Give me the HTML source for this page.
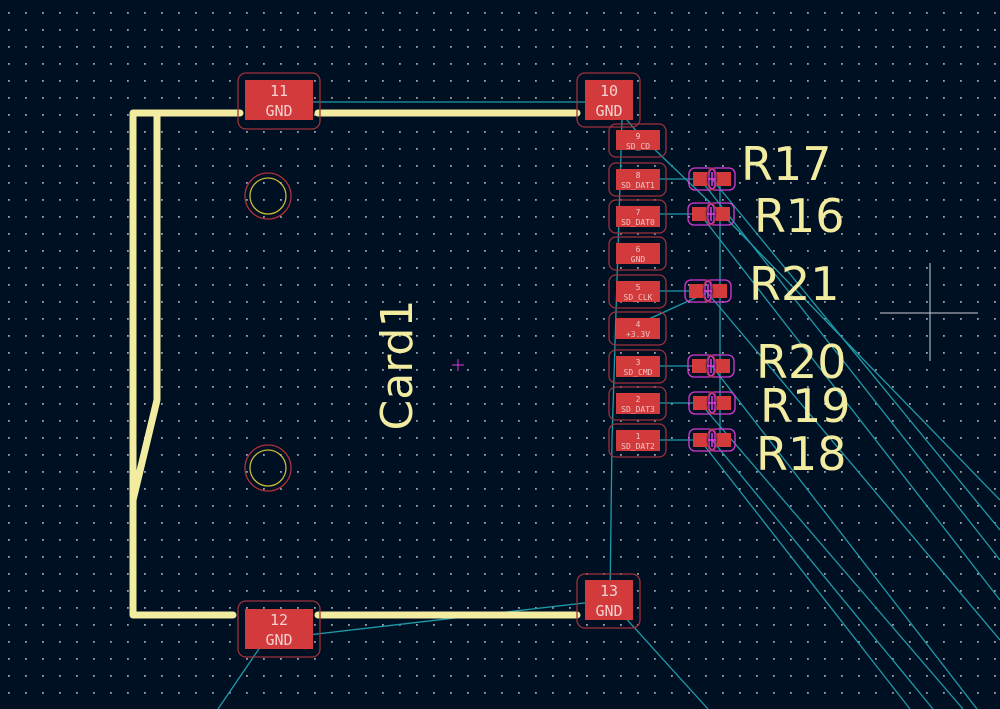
<!DOCTYPE html>
<html><head><meta charset="utf-8"><style>
html,body{margin:0;padding:0;background:#001023;}
svg{display:block}
text{font-family:"DejaVu Sans Mono","Liberation Mono",monospace;}
text.big{font-family:"DejaVu Sans","Liberation Sans",sans-serif;}
</style></head><body>
<svg width="1000" height="709" viewBox="0 0 1000 709" xmlns="http://www.w3.org/2000/svg">
<defs>
<pattern id="g" x="8" y="12" width="17" height="17" patternUnits="userSpaceOnUse">
<rect x="0" y="0" width="1.8" height="1.8" fill="#9aa0ac"/>
</pattern>
</defs>
<rect width="1000" height="709" fill="#001023"/>
<rect width="1000" height="709" fill="url(#g)"/>

<g stroke="#1f9aa8" stroke-width="1.3" fill="none">
<line x1="280" y1="102" x2="610" y2="102"/>
<line x1="612" y1="102" x2="652" y2="150"/>
<line x1="650" y1="145" x2="722" y2="214"/>
<line x1="622" y1="120" x2="612" y2="440"/>
<line x1="612" y1="440" x2="610" y2="600"/>
<line x1="640" y1="323" x2="706" y2="293"/>
<line x1="265" y1="640" x2="610" y2="600"/>
<line x1="265" y1="640" x2="218" y2="709"/>
<line x1="612" y1="603" x2="708" y2="709"/>
<line x1="720" y1="180" x2="720" y2="440"/>
<line x1="640" y1="179" x2="700" y2="179"/>
<line x1="640" y1="214" x2="700" y2="214"/>
<line x1="640" y1="291" x2="696" y2="291"/>
<line x1="640" y1="366" x2="700" y2="366"/>
<line x1="640" y1="403" x2="700" y2="403"/>
<line x1="640" y1="440" x2="700" y2="440"/>
<line x1="700" y1="440" x2="910" y2="709"/>
<line x1="712" y1="440" x2="933" y2="709"/>
<line x1="700" y1="403" x2="963" y2="709"/>
<line x1="712" y1="366" x2="977" y2="709"/>
<line x1="706" y1="291" x2="1000" y2="640"/>
<line x1="700" y1="214" x2="1000" y2="600"/>
<line x1="700" y1="179" x2="1000" y2="560"/>
<line x1="722" y1="214" x2="1000" y2="500"/>
<line x1="712" y1="179" x2="1000" y2="530"/>
</g>

<g stroke="#f2eca0" stroke-width="7" fill="none" stroke-linecap="round" stroke-linejoin="round">
<polyline points="240,113 133,113 133,615 233,615"/>
<polyline points="157,113 157,400 133,500"/>
<line x1="318" y1="113" x2="577" y2="113"/>
<line x1="318" y1="615" x2="577" y2="615"/>
</g>

<g fill="none">
<circle cx="268" cy="196" r="23" stroke="#b0303a" stroke-width="1.3"/>
<circle cx="268" cy="196" r="18" stroke="#c9b840" stroke-width="1.3"/>
<circle cx="268" cy="468" r="23" stroke="#b0303a" stroke-width="1.3"/>
<circle cx="268" cy="468" r="18" stroke="#c9b840" stroke-width="1.3"/>
</g>

<g fill="none" stroke="#a0303a" stroke-width="1.3">
<rect x="238" y="73" width="82" height="56" rx="8"/>
<rect x="577" y="73" width="63" height="54" rx="8"/>
<rect x="238" y="601" width="82" height="56" rx="8"/>
<rect x="577" y="574" width="63" height="54" rx="8"/>
</g>
<g fill="#d33a3c">
<rect x="245" y="80" width="68" height="40"/>
<rect x="585" y="80" width="48" height="40"/>
<rect x="245" y="609" width="68" height="40"/>
<rect x="585" y="580" width="48" height="40"/>
</g>
<g fill="#f4d0d0" font-size="15" text-anchor="middle">
<text x="279" y="96">11</text><text x="279" y="116">GND</text>
<text x="609" y="96">10</text><text x="609" y="116">GND</text>
<text x="279" y="625">12</text><text x="279" y="645">GND</text>
<text x="609" y="596">13</text><text x="609" y="616">GND</text>
</g>

<g>
<g fill="none" stroke="#a0303a" stroke-width="1.3">
<rect x="609" y="124" width="57" height="33" rx="7"/>
<rect x="609" y="163" width="57" height="33" rx="7"/>
<rect x="609" y="200" width="57" height="33" rx="7"/>
<rect x="609" y="237" width="57" height="33" rx="7"/>
<rect x="609" y="275" width="57" height="33" rx="7"/>
<rect x="609" y="312" width="57" height="33" rx="7"/>
<rect x="609" y="350" width="57" height="33" rx="7"/>
<rect x="609" y="387" width="57" height="33" rx="7"/>
<rect x="609" y="424" width="57" height="33" rx="7"/>
</g>
<g fill="#d33a3c">
<rect x="616" y="130" width="44" height="20"/>
<rect x="616" y="169" width="44" height="21"/>
<rect x="616" y="206" width="44" height="21"/>
<rect x="616" y="243" width="44" height="21"/>
<rect x="616" y="281" width="44" height="21"/>
<rect x="616" y="318" width="44" height="21"/>
<rect x="616" y="356" width="44" height="21"/>
<rect x="616" y="393" width="44" height="21"/>
<rect x="616" y="430" width="44" height="21"/>
</g>
<g fill="#f0c4c4" font-size="8" text-anchor="middle">
<text x="638" y="139">9</text><text x="638" y="149">SD_CD</text>
<text x="638" y="178">8</text><text x="638" y="188">SD_DAT1</text>
<text x="638" y="215">7</text><text x="638" y="225">SD_DAT0</text>
<text x="638" y="252">6</text><text x="638" y="262">GND</text>
<text x="638" y="290">5</text><text x="638" y="300">SD_CLK</text>
<text x="638" y="327">4</text><text x="638" y="337">+3.3V</text>
<text x="638" y="365">3</text><text x="638" y="375">SD_CMD</text>
<text x="638" y="402">2</text><text x="638" y="412">SD_DAT3</text>
<text x="638" y="439">1</text><text x="638" y="449">SD_DAT2</text>
</g>
</g>

<g id="rs">
<g transform="translate(712,179)">
<rect x="-23" y="-11" width="26" height="22" rx="6" fill="none" stroke="#d63ad6" stroke-width="1.3"/>
<rect x="-3" y="-11" width="26" height="22" rx="6" fill="none" stroke="#d63ad6" stroke-width="1.3"/>
<rect x="-19" y="-7" width="14" height="14" fill="#d33a3c"/>
<rect x="5" y="-7" width="14" height="14" fill="#d33a3c"/>
<ellipse cx="0" cy="0" rx="5" ry="11" fill="none" stroke="#a0303a" stroke-width="1.2"/>
<line x1="0" y1="-7" x2="0" y2="7" stroke="#e040e0" stroke-width="1.5"/><line x1="-4" y1="0" x2="4" y2="0" stroke="#e040e0" stroke-width="1.5"/>
</g>
</g>
<use href="#rs" transform="translate(-1,35)"/>
<use href="#rs" transform="translate(-4,112)"/>
<use href="#rs" transform="translate(-1,187)"/>
<use href="#rs" transform="translate(0,224)"/>
<use href="#rs" transform="translate(0,261)"/>

<g fill="#f2eca0" font-size="46">
<text class="big" x="741" y="180">R17</text>
<text class="big" x="754" y="232">R16</text>
<text class="big" x="749" y="300">R21</text>
<text class="big" x="756" y="378">R20</text>
<text class="big" x="760" y="422">R19</text>
<text class="big" x="756" y="470">R18</text>
<text class="big" transform="translate(412,365) rotate(-90)" text-anchor="middle" font-size="44">Card1</text>
</g>

<g stroke="#d63ad6" stroke-width="1"><line x1="452" y1="365" x2="464" y2="365"/><line x1="458" y1="359" x2="458" y2="371"/></g>
<g stroke="#c8ccd4" stroke-width="1"><line x1="930" y1="263" x2="930" y2="361"/><line x1="880" y1="313" x2="978" y2="313"/></g>
</svg>
</body></html>
